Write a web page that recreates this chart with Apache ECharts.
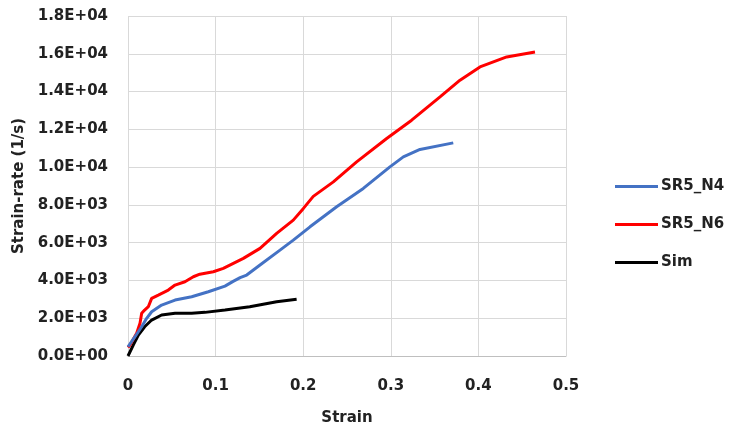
<!DOCTYPE html>
<html>
<head>
<meta charset="utf-8">
<script src="https://cdn.jsdelivr.net/npm/echarts@6/dist/echarts.min.js"></script>
<style>
  html, body { margin: 0; padding: 0; background: #fff; }
  #chart { width: 730px; height: 431px; }
</style>
</head>
<body>
<div id="chart"></div>
<script>
// Strain vs strain-rate curves for two experiments and the simulation
const seriesNames = ['SR5_N4', 'SR5_N6', 'Sim'];
const seriesColors = ['#4472C4', '#FF0000', '#000000'];

const n4Strain = [0, 0.008, 0.0156, 0.0213, 0.027, 0.0384, 0.0537, 0.0727, 0.0917, 0.1107, 0.12, 0.128, 0.1355, 0.1507, 0.1735, 0.1887, 0.2078, 0.2382, 0.2686, 0.299, 0.3143, 0.3333, 0.3713];
const n4Rate   = [490, 1020, 1550, 1994, 2344, 2698, 2962, 3137, 3401, 3700, 3950, 4150, 4285, 4814, 5607, 6136, 6840, 7898, 8871, 10014, 10543, 10934, 11284];

const n6Strain = [0, 0.0023, 0.0099, 0.0137, 0.0156, 0.019, 0.0232, 0.027, 0.0346, 0.046, 0.0537, 0.065, 0.0746, 0.082, 0.0974, 0.1088, 0.1317, 0.1507, 0.1697, 0.1887, 0.2, 0.2115, 0.2344, 0.261, 0.2953, 0.3238, 0.3562, 0.379, 0.4018, 0.4323, 0.4646];
const n6Rate   = [450, 580, 1200, 1730, 2258, 2433, 2608, 3052, 3227, 3491, 3756, 3930, 4195, 4330, 4460, 4640, 5168, 5697, 6490, 7194, 7800, 8450, 9220, 10279, 11516, 12484, 13717, 14600, 15305, 15834, 16098];

const simStrain = [0, 0.006, 0.0118, 0.019, 0.027, 0.0384, 0.0537, 0.0727, 0.0879, 0.1107, 0.139, 0.1697, 0.1925];
const simRate   = [0, 580, 1110, 1550, 1904, 2170, 2258, 2258, 2310, 2433, 2608, 2872, 2999];

const xTicks = { min: 0, max: 0.5, step: 0.1 };
const yTicks = { min: 0, max: 18000, step: 2000 };

function pairs(xs, ys) { return xs.map((x, i) => [x, ys[i]]); }

function sci(v) {
  if (v === 0) return '0.0E+00';
  const e = Math.floor(Math.log10(Math.abs(v)) + 1e-9);
  const m = (v / Math.pow(10, e)).toFixed(1);
  return m + 'E' + (e < 0 ? '-' : '+') + String(Math.abs(e)).padStart(2, '0');
}

const font = 'DejaVu Sans';
const textColor = '#222222';
const gridColor = '#d9d9d9';

const chart = echarts.init(document.getElementById('chart'), null, { renderer: 'canvas' });

const datasets = [pairs(n4Strain, n4Rate), pairs(n6Strain, n6Rate), pairs(simStrain, simRate)];

chart.setOption({
  animation: false,
  backgroundColor: '#ffffff',
  grid: { left: 128, right: 164, top: 16, bottom: 75, containLabel: false },
  xAxis: {
    type: 'value',
    min: xTicks.min, max: xTicks.max, interval: xTicks.step,
    name: 'Strain',
    nameLocation: 'middle',
    nameGap: 55,
    nameTextStyle: { fontFamily: font, fontWeight: 'bold', fontSize: 15, color: textColor },
    axisLine: { show: true, lineStyle: { color: '#bfbfbf', width: 1 } },
    axisTick: { show: false },
    splitLine: { show: true, lineStyle: { color: gridColor, width: 1 } },
    axisLabel: { fontFamily: font, fontWeight: 'bold', fontSize: 15, color: textColor, margin: 23,
      formatter: v => String(Math.round(v * 10) / 10) }
  },
  yAxis: {
    type: 'value',
    min: yTicks.min, max: yTicks.max, interval: yTicks.step,
    name: 'Strain-rate (1/s)',
    nameLocation: 'middle',
    nameGap: 94,
    nameTextStyle: { fontFamily: font, fontWeight: 'bold', fontSize: 15, color: textColor },
    axisLine: { show: false },
    axisTick: { show: false },
    splitLine: { show: true, lineStyle: { color: gridColor, width: 1 } },
    axisLabel: { fontFamily: font, fontWeight: 'bold', fontSize: 15, color: textColor, margin: 20,
      formatter: sci }
  },
  legend: {
    orient: 'vertical',
    left: 610,
    top: 174,
    itemWidth: 43,
    itemHeight: 3,
    itemGap: 23,
    icon: 'rect',
    textStyle: { fontFamily: font, fontWeight: 'bold', fontSize: 15, color: textColor, padding: [0, 0, 0, -2] },
    data: seriesNames
  },
  series: seriesNames.map((name, i) => ({
    name,
    type: 'line',
    data: datasets[i],
    showSymbol: false,
    symbol: 'none',
    smooth: false,
    lineStyle: { color: seriesColors[i], width: 3 },
    itemStyle: { color: seriesColors[i] },
    z: 3 - i
  }))
});
</script>
</body>
</html>
